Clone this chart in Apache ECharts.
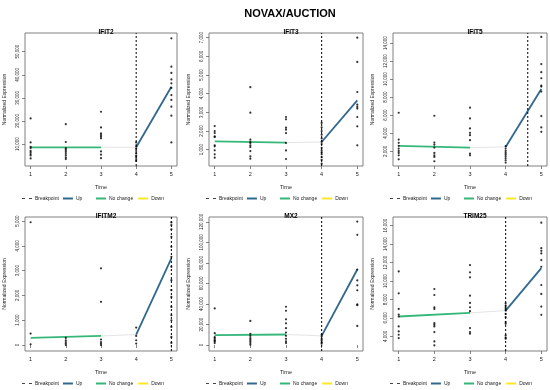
<!DOCTYPE html>
<html><head><meta charset="utf-8">
<script src="https://cdn.jsdelivr.net/npm/echarts@6/dist/echarts.min.js"></script>
<style>html,body{margin:0;padding:0;background:#fff}#c{width:550px;height:390px}</style>
</head><body><div id="c"></div>
<script>
const genes = ['IFIT2','IFIT3','IFIT5','IFITM2','MX2','TRIM25'];
const times = [1,2,3,4,5];
// observed points per time (1..5)
const IFIT2 = [[21100,10700,8800,8300,7100,6500,5700,5100,3800],[18600,10900,8200,7600,6900,6100,5200,4200,3500],[24000,17200,14600,13900,13200,12500,6800,5400,3900],[10700,9000,8000,7000,6000,5000,4500,3500,2700],[55800,43500,40800,38000,36300,34300,31200,29100,26200,22300,10700]];
const IFIT3 = [[2264,1996,1889,1712,1675,1230,1177,963,750,571],[4350,2980,1536,1407,1354,1230,1139,925,641,518],[2750,2625,2180,2070,1890,1360,960,500],[2430,2200,2000,1800,1600,1420,1300,1100,950,850,750,600,450,250],[7000,5700,4090,3410,3290,3200,2750,2250,1230]];
const IFIT5 = [[6270,3300,2930,2600,2300,2040,1810,1550,1110],[5940,2970,2740,2410,1810,1550,1370,890],[6830,5640,4530,4040,3780,3230,1740,1550],[2560,2300,2040,1810,1630,1440,1220,1000,740],[14680,11670,10770,10100,9290,9180,8620,5900,4640,4160]];
const IFITM2 = [[4950,460,30],[285,190,120,55,0],[3090,1740,220,120,55,0],[700,365,190,55],[4945,4838,4664,4366,3961,3557,3153,2614,2210,1940,1536,1199,997,727,323,81]];
const MX2 = [[35700,11600,6750,5150,3500,1930,4200,7800],[23470,10930,8900,6750,5100,3500,1930,300],[37300,33440,25080,21220,16400,12220,9000,6110,3540,1930],[9970,8360,5790,4500,2570,1300],[120260,107400,73630,63000,58200,53370,39550,38900,18650]];
const TRIM25 = [[11040,8670,6980,6370,6160,5080,4540,4180,3820],[9140,8490,7160,6980,5440,5260,5080,4470,3460,3030],[11730,10940,10400,8420,7630,7160,6730,4900,4470,4290],[7590,7350,7160,6980,6800,6440,6080,5550,5370,4110,3860,3750],[16330,13560,13270,12990,12270,11550,9570,8600,7230,6340]];
// fitted segments
const noChangeStart = [8600,1446,2600,285,9650,6160];
const noChangeEnd   = [8600,1375,2400,365,10300,6550];
const upStart = [8600,1410,2480,420,9000,6800];
const upEnd   = [34800,3640,8910,3490,73630,11400];
const breakpoints = [4,4,4.62,5,4,4];
// axis ranges and tick labels
const yMin = [500,125,364,-243,-5790,2420];
const yMax = [58100,7250,15120,5162,124760,16940];
const IFIT2_ticks = [10000,20000,30000,40000,50000];
const IFIT3_ticks = [1000,2000,3000,4000,5000,6000,7000];
const IFIT5_ticks = [2000,4000,6000,8000,10000,12000,14000];
const IFITM2_ticks = [0,1000,2000,3000,4000,5000];
const MX2_ticks = [0,20000,40000,60000,80000,100000,120000];
const TRIM25_ticks = [4000,6000,8000,10000,12000,14000,16000];

const pointsData = [IFIT2,IFIT3,IFIT5,IFITM2,MX2,TRIM25];
const tickData = [IFIT2_ticks,IFIT3_ticks,IFIT5_ticks,IFITM2_ticks,MX2_ticks,TRIM25_ticks];

const boxes = [
  {l:25,t:33,w:152,h:133},{l:209,t:33,w:154,h:133},{l:393,t:33,w:154,h:133},
  {l:25,t:217,w:152,h:134},{l:209,t:217,w:154,h:134},{l:393,t:217,w:154,h:134}
];
const C_UP='#31688E', C_NC='#35B779', C_DOWN='#FDE725';
const FONT='Liberation Sans, Arial, sans-serif';
const fmt = v => Math.round(v).toLocaleString('en-US');
const ICON_SOLID='path://M0,0h10v2h-10z';
const ICON_DASH='path://M0,0h3v1h-3zM7,0h3v1h-3z';

const grid=[],xAxis=[],yAxis=[],series=[],title=[],legend=[];
title.push({text:'NOVAX/AUCTION',left:285,top:3,textAlign:'center',textStyle:{fontFamily:FONT,fontSize:11,fontWeight:'bold',color:'#000'}});
genes.forEach((g,i)=>{
  const b=boxes[i];
  grid.push({left:b.l,top:b.t,width:b.w,height:b.h,show:true,borderColor:'#808080',borderWidth:1,backgroundColor:'transparent',containLabel:false});
  title.push({text:g,left:b.l+b.w/2,top:b.t-9,textAlign:'center',textStyle:{fontFamily:FONT,fontSize:6.5,fontWeight:'bold',color:'#000'}});
  xAxis.push({type:'value',gridIndex:i,min:0.84,max:5.16,name:'Time',nameLocation:'middle',nameGap:18,
    nameTextStyle:{fontFamily:FONT,fontSize:5.5,color:'#222'},
    axisLine:{show:false},splitLine:{show:false},
    axisTick:{show:true,inside:false,length:3,lineStyle:{color:'#666',width:0.8},customValues:times},
    axisLabel:{fontFamily:FONT,fontSize:5.5,color:'#222',margin:5,customValues:times,formatter:v=>String(v)}});
  yAxis.push({type:'value',gridIndex:i,min:yMin[i],max:yMax[i],name:'Normalized Expression',nameLocation:'middle',nameGap:18,
    nameTextStyle:{fontFamily:FONT,fontSize:5,color:'#222'},
    axisLine:{show:false},splitLine:{show:false},
    axisTick:{show:true,inside:false,length:3,lineStyle:{color:'#666',width:0.8},customValues:tickData[i]},
    axisLabel:{fontFamily:FONT,fontSize:4.5,color:'#222',rotate:90,margin:5,customValues:tickData[i],formatter:fmt}});
  const pts=[];
  pointsData[i].forEach((arr,k)=>arr.forEach(v=>pts.push([times[k],v])));
  series.push({type:'line',name:'connector',xAxisIndex:i,yAxisIndex:i,symbol:'none',silent:true,
    data:[[3,noChangeEnd[i]],[4,upStart[i]]],lineStyle:{color:'#dddddd',width:0.8},z:1});
  series.push({type:'line',name:'No change',xAxisIndex:i,yAxisIndex:i,symbol:'none',
    data:[[1,noChangeStart[i]],[3,noChangeEnd[i]]],lineStyle:{color:C_NC,width:1.8},itemStyle:{color:C_NC},z:3});
  series.push({type:'line',name:'Up',xAxisIndex:i,yAxisIndex:i,symbol:'none',
    data:[[4,upStart[i]],[5,upEnd[i]]],lineStyle:{color:C_UP,width:1.8},itemStyle:{color:C_UP},z:3});
  series.push({type:'line',name:'Down',xAxisIndex:i,yAxisIndex:i,symbol:'none',
    data:[],lineStyle:{color:C_DOWN,width:1.8},itemStyle:{color:C_DOWN},z:3});
  series.push({type:'scatter',name:'points',xAxisIndex:i,yAxisIndex:i,symbol:'circle',symbolSize:2.2,
    data:pts,itemStyle:{color:'#000'},z:4});
  series.push({type:'line',name:'Breakpoint',xAxisIndex:i,yAxisIndex:i,symbol:'none',
    data:[[breakpoints[i],yMin[i]],[breakpoints[i],yMax[i]]],lineStyle:{color:'#000',width:1,type:[2,2]},itemStyle:{color:'#000'},z:5});
  const ly = i<3 ? 196 : 381;
  legend.push({left:b.l-3,top:ly,padding:0,itemGap:4,itemWidth:10,itemHeight:2,selectedMode:false,
    data:[{name:'Breakpoint',icon:ICON_DASH,itemStyle:{color:'#444'}},{name:'Up',icon:ICON_SOLID,itemStyle:{color:C_UP}}],
    textStyle:{fontFamily:FONT,fontSize:5,color:'#222',padding:[0,0,0,-2]}});
  legend.push({left:b.l+71,top:ly,padding:0,itemGap:5,itemWidth:10,itemHeight:2,selectedMode:false,
    data:[{name:'No change',icon:ICON_SOLID,itemStyle:{color:C_NC}},{name:'Down',icon:ICON_SOLID,itemStyle:{color:C_DOWN}}],
    textStyle:{fontFamily:FONT,fontSize:5,color:'#222',padding:[0,0,0,-2]}});
});
const chart=echarts.init(document.getElementById('c'),null,{renderer:'canvas'});
chart.setOption({animation:false,backgroundColor:'#fff',title,grid,xAxis,yAxis,series,legend});
</script></body></html>
